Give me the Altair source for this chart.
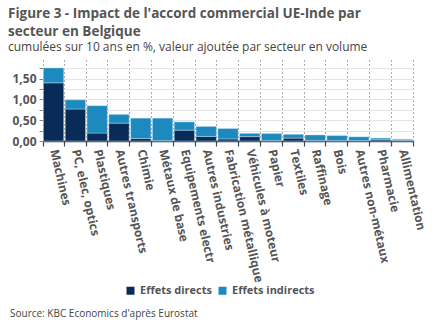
import altair as alt
import pandas as pd

categories = ["Machines", "PC, elec, optics", "Plastiques", "Autres transports", "Chimie",
              "Métaux de base", "Equipements electr", "Autres industries",
              "Fabrication métallique", "Véhicules à moteur", "Papier", "Textiles",
              "Raffinage", "Bois", "Autres non-métaux", "Pharmacie", "Allimentation"]
direct = [1.40, 0.77, 0.19, 0.43, 0.06, 0.01, 0.26, 0.11, 0.05, 0.105, 0.01, 0.07, 0.01, 0.01, 0.01, 0.03, 0.015]
indirect = [0.36, 0.22, 0.66, 0.21, 0.49, 0.54, 0.20, 0.24, 0.25, 0.08, 0.17, 0.09, 0.135, 0.12, 0.09, 0.04, 0.025]
series = ["Effets directs", "Effets indirects"]
colors = ["#082b57", "#1c8abf"]
y_ticks = [0, 0.25, 0.5, 0.75, 1.0, 1.25, 1.5, 1.75]

rows = []
for i, c in enumerate(categories):
    rows.append({"cat": c, "serie": series[0], "val": direct[i], "ord": 0})
    rows.append({"cat": c, "serie": series[1], "val": indirect[i], "ord": 1})
df = pd.DataFrame(rows)

W, H = 370, 81
FONT = "Open Sans"

bars = alt.Chart(df).mark_bar(stroke="#cfe3ef", strokeWidth=0.4).encode(
    x=alt.X("cat:N", sort=categories, title=None,
            scale=alt.Scale(paddingInner=0.07, paddingOuter=0.02),
            axis=alt.Axis(labelAngle=77, labelFont=FONT, labelFontWeight="bold",
                          labelFontSize=12, labelColor="#555555", labelPadding=3,
                          domainColor="#3a4a5a", domainWidth=1.5,
                          tickColor="#3a4a5a", tickSize=5, tickWidth=1.2, tickBand="extent",
                          grid=True, gridDash=[1, 3], gridColor="#555555", gridWidth=1,
                          labelOverlap=False)),
    y=alt.Y("val:Q", stack="zero", title=None,
            scale=alt.Scale(domain=[0, 1.95], nice=False),
            axis=alt.Axis(values=y_ticks, labelFont=FONT, labelFontWeight="bold",
                          labelFontSize=12, labelColor="#555555",
                          labelExpr="(datum.value*4)%2==0 ? replace(format(datum.value,'.2f'),'.',',') : ''",
                          domain=False, tickColor="#888888", tickSize=4,
                          gridColor="#e4e4e4", gridWidth=1, labelPadding=3)),
    color=alt.Color("serie:N", scale=alt.Scale(domain=series, range=colors),
                    legend=alt.Legend(orient="none", legendX=82, legendY=225, direction="horizontal",
                                      title=None, symbolType="square", symbolSize=64,
                                      labelFont=FONT, labelFontWeight="bold", labelFontSize=11,
                                      labelColor="#555555", columnPadding=5, symbolStrokeWidth=0)),
    order=alt.Order("ord:Q"),
)

source = alt.Chart(pd.DataFrame({"t": ["Source: KBC Economics d'après Eurostat"]})).mark_text(
    align="left", baseline="middle", font=FONT, fontSize=10, color="#444444"
).encode(x=alt.value(-33), y=alt.value(254), text="t:N")

chart = alt.layer(bars, source).properties(
    width=W, height=H,
    autosize=alt.AutoSizeParams(type="none"),
    padding={"left": 43, "top": 60, "right": 19, "bottom": 193},
    title=alt.TitleParams(
        text=["Figure 3 - Impact de l'accord commercial UE-Inde par", "secteur en Belgique"],
        subtitle="cumulées sur 10 ans en %, valeur ajoutée par secteur en volume",
        anchor="start", frame="group", dx=-35, font=FONT, fontSize=13.5, fontWeight="bold",
        color="#555555", lineHeight=18, subtitleFont=FONT, subtitleFontSize=12,
        subtitleColor="#444444", subtitlePadding=4, offset=7),
).configure_view(stroke=None)

chart.save("out.html", embed_options={"renderer": "svg", "actions": False})
